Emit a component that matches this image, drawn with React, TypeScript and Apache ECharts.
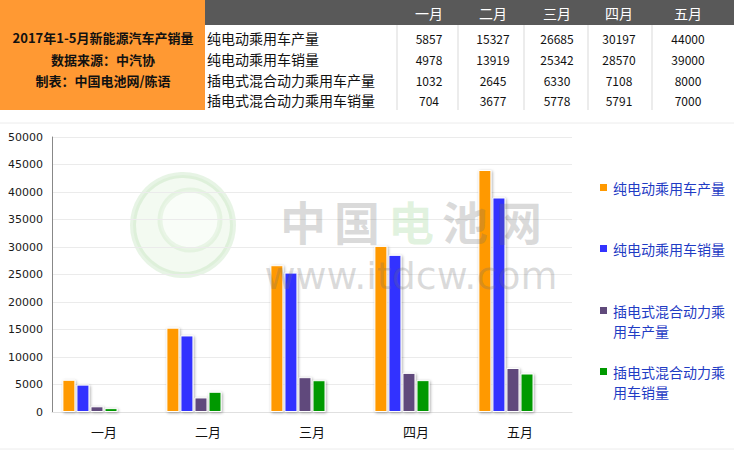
import React, { useEffect, useRef } from "react";
import * as echarts from "echarts";

const months = ["一月", "二月", "三月", "四月", "五月"];
const seriesNames = [
  "纯电动乘用车产量",
  "纯电动乘用车销量",
  "插电式混合动力乘用车产量",
  "插电式混合动力乘用车销量",
];
const bevProduction = [5857, 15327, 26685, 30197, 44000];
const bevSales = [4978, 13919, 25342, 28570, 39000];
const phevProduction = [1032, 2645, 6330, 7108, 8000];
const phevSales = [704, 3677, 5778, 5791, 7000];
const seriesColors = ["#FF9900", "#3333FF", "#604A7B", "#009900"];
const legendLabels = [
  "纯电动乘用车产量",
  "纯电动乘用车销量",
  "插电式混合动力乘\n用车产量",
  "插电式混合动力乘\n用车销量",
];
const titleLines = ["2017年1-5月新能源汽车产销量", "数据来源：中汽协", "制表：中国电池网/陈语"];
const watermarkChars = ["中", "国", "电", "池", "网"];

export default function App() {
  const ref = useRef<HTMLDivElement>(null);
  useEffect(() => {
    if (!ref.current) return;
    const chart = echarts.init(ref.current, null, { renderer: "svg" });
    const values = [bevProduction, bevSales, phevProduction, phevSales];
    const colCenters = [429, 493, 557, 619, 688];
    const rowY = [38, 59, 80, 100];
    const cjk = '"Noto Sans CJK SC", sans-serif';

    const graphics: any[] = [];
    graphics.push({ type: "rect", shape: { x: 0, y: 0, width: 205, height: 110 }, style: { fill: "#FF9933" }, z: 0 });
    graphics.push({ type: "rect", shape: { x: 205, y: 0, width: 529, height: 25 }, style: { fill: "#595959" }, z: 0 });
    [397, 458, 524, 588, 652].forEach((x) => {
      graphics.push({ type: "line", shape: { x1: x, y1: 25, x2: x, y2: 110 }, style: { stroke: "#d9d9d9", lineWidth: 1 }, z: 1 });
    });
    titleLines.forEach((t, i) => {
      graphics.push({
        type: "text",
        x: 103,
        y: [37, 59, 80][i],
        style: { text: t, fill: "#111", font: `bold 13px ${cjk}`, align: "center", verticalAlign: "middle" },
        z: 2,
      });
    });
    months.forEach((m, i) => {
      graphics.push({
        type: "text",
        x: colCenters[i],
        y: 13,
        style: { text: m, fill: "#fff", font: `14px ${cjk}`, align: "center", verticalAlign: "middle" },
        z: 2,
      });
    });
    seriesNames.forEach((n, r) => {
      graphics.push({
        type: "text",
        x: 207,
        y: rowY[r],
        style: { text: n, fill: "#111", font: `14px ${cjk}`, align: "left", verticalAlign: "middle" },
        z: 2,
      });
      values[r].forEach((v, c) => {
        graphics.push({
          type: "text",
          x: colCenters[c],
          y: rowY[r],
          style: { text: String(v), fill: "#111", font: `12px ${cjk}`, align: "center", verticalAlign: "middle" },
          z: 2,
        });
      });
    });
    graphics.push({ type: "line", shape: { x1: 0, y1: 123, x2: 734, y2: 123 }, style: { stroke: "#ececec", lineWidth: 1 }, z: 0 });
    graphics.push({ type: "line", shape: { x1: 0, y1: 449, x2: 734, y2: 449 }, style: { stroke: "#ececec", lineWidth: 1 }, z: 0 });
    const legendIconY = [188, 249, 311, 372];
    legendLabels.forEach((l, i) => {
      graphics.push({ type: "rect", shape: { x: 600, y: legendIconY[i] - 4, width: 7, height: 7 }, style: { fill: seriesColors[i] }, z: 2 });
      graphics.push({
        type: "text",
        x: 613,
        y: legendIconY[i] - 10,
        style: { text: l, fill: "#1f3cc4", font: `14px ${cjk}`, lineHeight: 20, align: "left", verticalAlign: "top" },
        z: 2,
      });
    });
    // watermark
    graphics.push({ type: "circle", shape: { cx: 183, cy: 225, r: 50 }, style: { fill: "rgba(190,225,180,0.18)", stroke: "rgba(160,210,150,0.25)", lineWidth: 6 }, z: 0 });
    graphics.push({ type: "circle", shape: { cx: 190, cy: 220, r: 30 }, style: { fill: "rgba(255,255,255,0.5)", stroke: "rgba(170,215,160,0.2)", lineWidth: 5 }, z: 0 });
    watermarkChars.forEach((ch, i) => {
      graphics.push({
        type: "text",
        x: 303 + i * 54,
        y: 220,
        style: {
          text: ch,
          fill: i === 2 ? "rgba(120,200,110,0.22)" : "rgba(110,110,110,0.25)",
          font: `bold 46px ${cjk}`,
          align: "center",
          verticalAlign: "middle",
        },
        z: 100,
      });
    });
    graphics.push({
      type: "text",
      x: 411,
      y: 276,
      style: { text: "www.itdcw.com", fill: "rgba(110,110,110,0.25)", font: `38px "DejaVu Sans", sans-serif`, align: "center", verticalAlign: "middle" },
      z: 100,
    });

    const barStyle = (color: string) => ({
      color,
      borderColor: "#ffffff",
      borderWidth: 1,
      shadowBlur: 3,
      shadowColor: "rgba(0,0,0,0.35)",
      shadowOffsetX: 1,
      shadowOffsetY: 1,
    });

    const series: any[] = values.map((vals, i) => ({
      name: seriesNames[i],
      type: "bar",
      data: vals,
      barWidth: 13,
      barGap: "8%",
      itemStyle: barStyle(seriesColors[i]),
      z: 2,
    }));
    series.push({ name: "_p1", type: "bar", data: [null, null, null, null, null], barWidth: 13, barGap: "8%" });
    series.push({ name: "_p2", type: "bar", data: [null, null, null, null, null], barWidth: 13, barGap: "8%" });

    chart.setOption({
      animation: false,
      backgroundColor: "#ffffff",
      grid: { left: 52, right: 162, top: 137, bottom: 41, containLabel: false },
      xAxis: {
        type: "category",
        data: months,
        axisLine: { show: true, lineStyle: { color: "#e0e0e0" } },
        axisTick: { show: false },
        axisLabel: { color: "#111", fontSize: 13, fontFamily: cjk, margin: 13 },
      },
      yAxis: {
        type: "value",
        min: 0,
        max: 50000,
        interval: 5000,
        axisLine: { show: true, lineStyle: { color: "#888" } },
        axisTick: { show: false },
        axisLabel: {
          color: "#1a1a1a",
          fontSize: 11,
          fontFamily: '"DejaVu Sans", Verdana, sans-serif',
          margin: 9,
          formatter: (v: number) => String(v),
        },
        splitLine: { lineStyle: { color: "#ebebeb" } },
      },
      series,
      graphic: graphics,
    });
    return () => chart.dispose();
  }, []);
  return <div ref={ref} style={{ position: "fixed", left: 0, top: 0, width: 734, height: 453 }} />;
}
